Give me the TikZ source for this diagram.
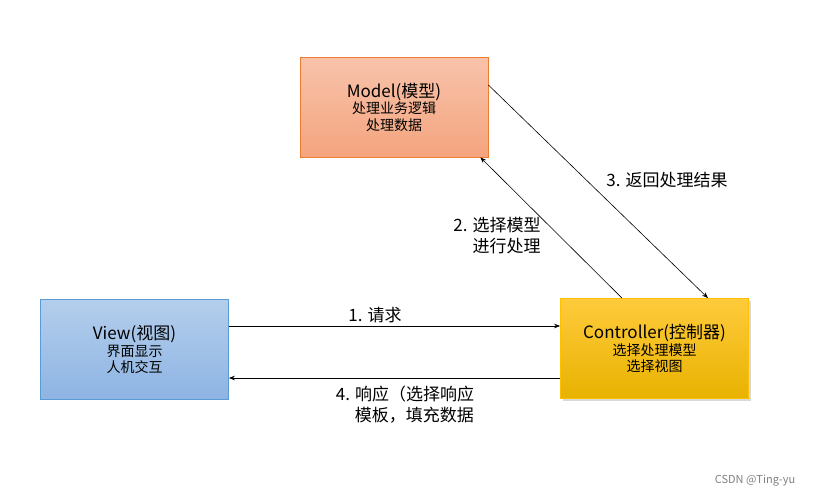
\documentclass[tikz,border=0pt]{standalone}
\usepackage{fontspec}
\setmainfont{Noto Sans CJK SC}
\usetikzlibrary{arrows.meta, shadows}

\definecolor{modeltop}{HTML}{F8C3AB}
\definecolor{modelbot}{HTML}{F4A47E}
\definecolor{modelline}{HTML}{ED7D31}
\definecolor{viewtop}{HTML}{B4CEEC}
\definecolor{viewbot}{HTML}{8EB4E3}
\definecolor{viewline}{HTML}{5B9BD5}
\definecolor{ctrltop}{HTML}{FFCB3C}
\definecolor{ctrlbot}{HTML}{E8B200}
\definecolor{ctrlline}{HTML}{FFC000}

\begin{document}
\begin{tikzpicture}[
  x=1pt, y=-1pt,
  every node/.style={font=\fontsize{17}{21}\selectfont, align=center, inner sep=0pt},
  box/.style={rectangle, draw, line width=0.8pt, minimum width=188pt, minimum height=100pt, font=\fontsize{14}{16.5}\selectfont},
  modelbox/.style={box, draw=modelline, top color=modeltop, bottom color=modelbot},
  viewbox/.style={box, draw=viewline, top color=viewtop, bottom color=viewbot},
  ctrlbox/.style={box, draw=ctrlline, top color=ctrltop, bottom color=ctrlbot,
    drop shadow={shadow xshift=2pt, shadow yshift=-2pt, opacity=0.3}},
  >={Stealth[length=6pt, width=4.5pt]}
  ]
\useasboundingbox (0,0) rectangle (814,498);

% Nodes
\node[modelbox] (model) at (394,107) {{\fontsize{17}{20}\selectfont Model(模型)}\\处理业务逻辑\\处理数据};
\node[viewbox] (view) at (134.5,349.5) {{\fontsize{17}{20}\selectfont View(视图)}\\界面显示\\人机交互};
\node[ctrlbox] (ctrl) at (654.5,348.5) {{\fontsize{17}{20}\selectfont Controller(控制器)}\\选择处理模型\\选择视图};

% Labels
\node (req) at (375,315) {1. 请求};
\node[align=right] (choose) at (497,236) {2. 选择模型\\进行处理};
\node (ret) at (667,180) {3. 返回处理结果};
\node[align=left] (resp) at (405,405) {4. 响应（选择响应\\\hspace{19pt}模板，填充数据};
\node[font=\fontsize{11}{13}\selectfont, text=gray] (mark) at (755,481) {CSDN @Ting-yu};

% Arrows
\draw[->, line width=0.6pt] ([yshift=23.5pt]view.east) -- ([yshift=23.5pt]view.east -| ctrl.west);
\draw[->, line width=0.6pt] ([xshift=-32.5pt]ctrl.north) -- ([xshift=-8pt]model.south east);
\draw[->, line width=0.6pt] ([yshift=22pt]model.east) -- ([xshift=53.5pt]ctrl.north);
\draw[->, line width=0.6pt] ([yshift=-29.5pt]ctrl.west) -- ([yshift=-29.5pt]ctrl.west -| view.east);

\end{tikzpicture}
\end{document}
